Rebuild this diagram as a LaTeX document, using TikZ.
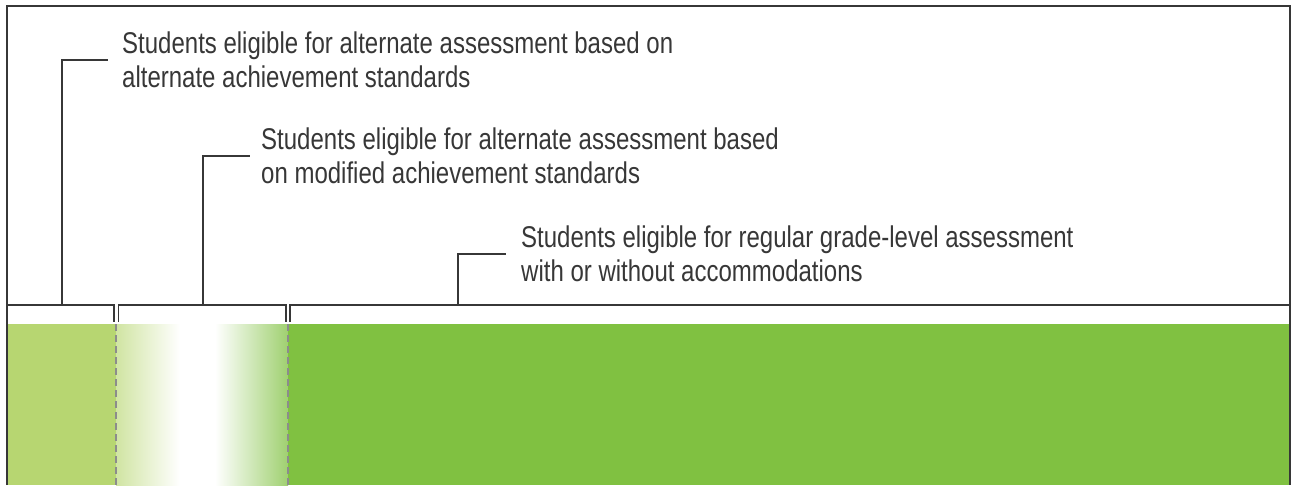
\documentclass[tikz,border=0pt]{standalone}
\usepackage{fontspec}
\setmainfont{Liberation Sans}[FakeStretch=0.8]
\usetikzlibrary{positioning}

\definecolor{lightband}{RGB}{183,214,113}
\definecolor{darkband}{RGB}{128,193,65}
\definecolor{rulegray}{RGB}{55,55,55}
\definecolor{splitgray}{RGB}{140,140,140}

\tikzset{
  frameline/.style={draw=rulegray, line width=1.5pt},
  leader/.style={draw=rulegray, line width=1.5pt},
  caption/.style={anchor=west, align=left, inner sep=0pt, text=rulegray,
    font=\fontsize{30}{34.5}\selectfont},
  splitline/.style={draw=splitgray, line width=1.5pt, dash pattern=on 7pt off 4pt},
}

\begin{document}
\begin{tikzpicture}[x=1pt,y=-1pt]
  \useasboundingbox (0,0) rectangle (1291,485);

  % the band
  \fill[lightband] (7,324) rectangle (116,485);
  \shade[left color=lightband!65!white, right color=white] (116,324) rectangle (180,485);
  \fill[white] (180,324) rectangle (215,485);
  \shade[left color=white, right color=darkband!75!white] (215,324) rectangle (288,485);
  \fill[darkband] (288,324) rectangle (1290,485);
  \draw[splitline] (116,324) -- (116,485);
  \draw[splitline] (288,324) -- (288,485);

  % frame and brackets
  \draw[frameline] (7,485) -- (7,6) -- (1290,6) -- (1290,485);
  \draw[frameline] (7,305) -- (114,305) -- (114,322);
  \draw[frameline] (118.5,322) -- (118.5,305) -- (286,305) -- (286,322);
  \draw[frameline] (290,322) -- (290,305) -- (1290,305);

  % captions
  \node[caption] (altach) at (122,60)
    {Students eligible for alternate assessment based on\\alternate achievement standards};
  \node[caption] (modach) at (261,156)
    {Students eligible for alternate assessment based\\on modified achievement standards};
  \node[caption] (gradelevel) at (521,254)
    {Students eligible for regular grade-level assessment\\with or without accommodations};

  \coordinate (altachfoot) at (62,305);
  \coordinate (modachfoot) at (203,305);
  \coordinate (gradelevelfoot) at (458,305);

  \draw[leader] (altachfoot) |- ([xshift=-14pt]altach.west);
  \draw[leader] (modachfoot) |- ([xshift=-11pt]modach.west);
  \draw[leader] (gradelevelfoot) |- ([xshift=-15pt]gradelevel.west);
\end{tikzpicture}
\end{document}
